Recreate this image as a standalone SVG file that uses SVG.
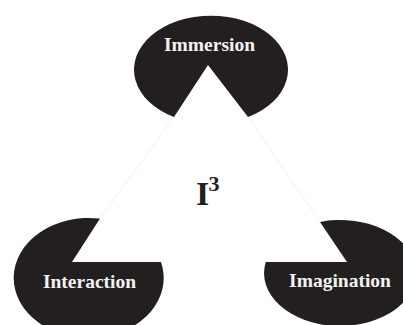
<svg xmlns="http://www.w3.org/2000/svg" width="403" height="325" viewBox="0 0 403 325">
<style>
.blob{fill:#231f20;}
.lbl{font-family:"Liberation Serif","Times New Roman",serif;font-weight:bold;font-size:19.5px;fill:#f2f2f2;text-anchor:middle;}
.title{font-family:"Liberation Serif","Times New Roman",serif;font-weight:bold;fill:#231f20;}
.faint{stroke:#f1f1f1;stroke-width:1;fill:none;}
</style>
<rect width="403" height="325" fill="#ffffff"/>
<g id="connectors">
<line class="faint" x1="174" y1="117" x2="100" y2="218.6"/>
<line class="faint" x1="248" y1="117" x2="320" y2="222"/>
</g>
<g id="immersion">
<path class="blob" d="M174 117 L208 65 L248 117 A77 54 0 1 0 174 117 Z"/>
<text class="lbl" x="209.5" y="51">Immersion</text>
</g>
<g id="interaction">
<path class="blob" d="M100 218.6 L72 262 L161 262 A75 60 0 1 1 100 218.6 Z"/>
<text class="lbl" x="89.5" y="288">Interaction</text>
</g>
<g id="imagination">
<path class="blob" d="M265.7 262 L347 262 L320 221.9 A76 53 0 1 1 265.7 262 Z"/>
<text class="lbl" x="340" y="287">Imagination</text>
</g>
<g id="center">
<text class="title" x="196" y="205" font-size="34">I</text>
<text class="title" x="208.5" y="191" font-size="22">3</text>
</g>
</svg>
